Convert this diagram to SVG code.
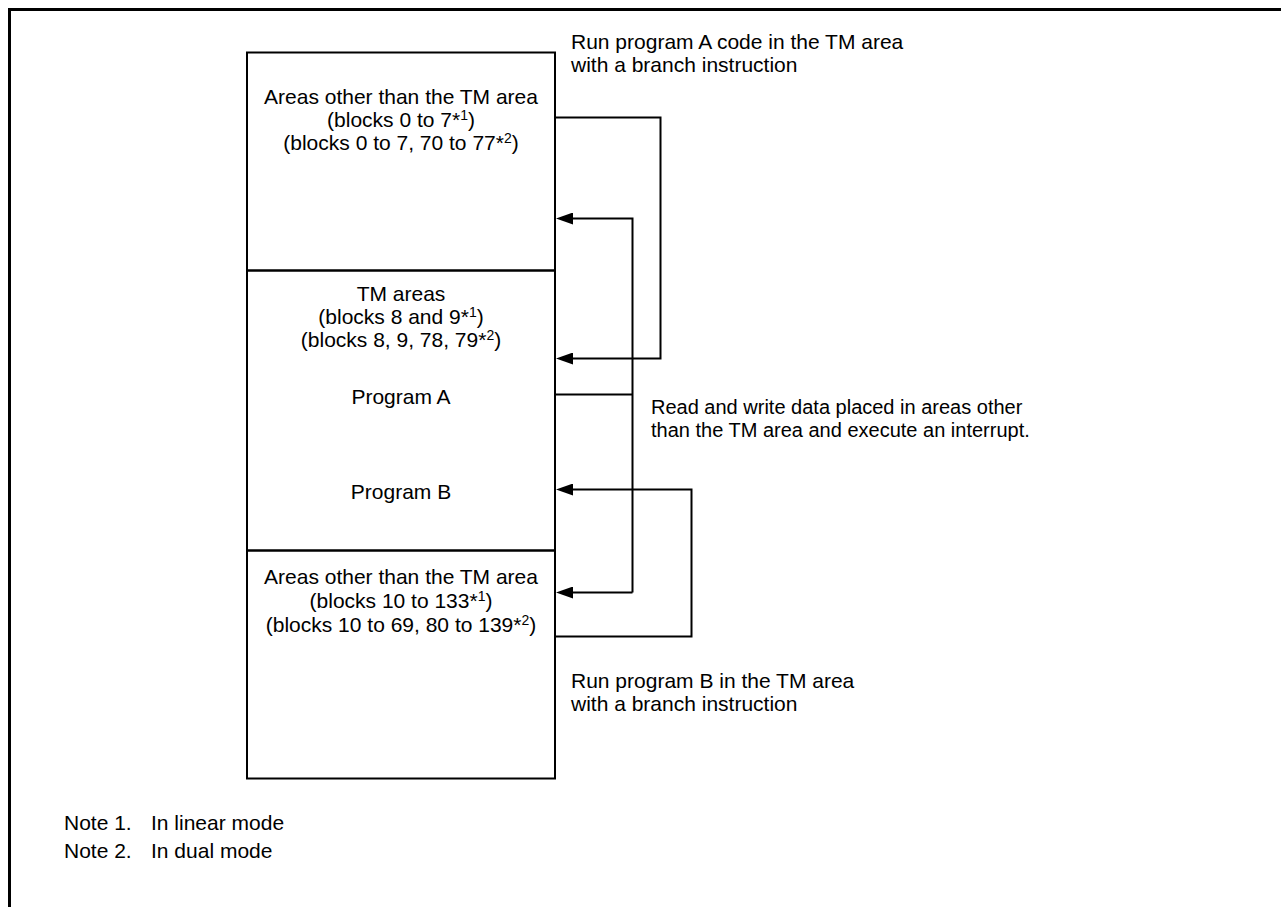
<svg xmlns="http://www.w3.org/2000/svg" width="1281" height="907" viewBox="0 0 1281 907">
<style>
text{font-family:"Liberation Sans",Arial,sans-serif;font-size:21px;fill:#000}
.c{text-anchor:middle}
.ln{fill:none;stroke:#000;stroke-width:2}
.sup{font-size:14px}
.s20{font-size:20px}
</style>
<defs>
<marker id="ah" viewBox="0 0 17 12" refX="3" refY="6" markerWidth="17" markerHeight="12" markerUnits="userSpaceOnUse" orient="auto">
<path d="M0,0 L17,6 L0,12 Z" fill="#000"/>
</marker>
</defs>
<rect width="1281" height="907" fill="#fff"/>
<path d="M9.5,907 V9.5 H1281" fill="none" stroke="#000" stroke-width="3"/>

<g id="area-top">
<rect x="247" y="52.5" width="308" height="218" class="ln"/>
<text class="c" x="401" y="104">Areas other than the TM area</text>
<text class="c" x="401" y="127">(blocks 0 to 7*<tspan class="sup" dy="-7">1</tspan><tspan dy="7">)</tspan></text>
<text class="c" x="401" y="150">(blocks 0 to 7, 70 to 77*<tspan class="sup" dy="-7">2</tspan><tspan dy="7">)</tspan></text>
</g>
<g id="area-tm">
<rect x="247" y="270.5" width="308" height="280" class="ln"/>
<text class="c" x="401" y="301">TM areas</text>
<text class="c" x="401" y="324">(blocks 8 and 9*<tspan class="sup" dy="-7">1</tspan><tspan dy="7">)</tspan></text>
<text class="c" x="401" y="347">(blocks 8, 9, 78, 79*<tspan class="sup" dy="-7">2</tspan><tspan dy="7">)</tspan></text>
<text class="c" x="401" y="404">Program A</text>
<text class="c" x="401" y="499">Program B</text>
</g>
<g id="area-bottom">
<rect x="247" y="550.5" width="308" height="228" class="ln"/>
<text class="c" x="401" y="584">Areas other than the TM area</text>
<text class="c" x="401" y="608">(blocks 10 to 133*<tspan class="sup" dy="-7">1</tspan><tspan dy="7">)</tspan></text>
<text class="c" x="401" y="632">(blocks 10 to 69, 80 to 139*<tspan class="sup" dy="-7">2</tspan><tspan dy="7">)</tspan></text>
</g>

<g id="connectors">
<path class="ln" d="M555,117.5 H660.5 V358.5 H570" marker-end="url(#ah)"/>
<path class="ln" d="M555,394.5 H632.5"/>
<path class="ln" d="M632.5,592.5 V218.5 H570" marker-end="url(#ah)"/>
<path class="ln" d="M632.5,592.5 H570" marker-end="url(#ah)"/>
<path class="ln" d="M555,636.5 H691.5 V489.5 H570" marker-end="url(#ah)"/>
</g>

<g id="labels">
<text x="571" y="49">Run program A code in the TM area</text>
<text x="571" y="72">with a branch instruction</text>
<text class="s20" x="651" y="414">Read and write data placed in areas other</text>
<text class="s20" x="651" y="437">than the TM area and execute an interrupt.</text>
<text x="571" y="688">Run program B in the TM area</text>
<text x="571" y="711">with a branch instruction</text>
</g>
<g id="notes">
<text x="64" y="830">Note 1.</text>
<text x="151" y="830">In linear mode</text>
<text x="64" y="858">Note 2.</text>
<text x="151" y="858">In dual mode</text>
</g>
</svg>
